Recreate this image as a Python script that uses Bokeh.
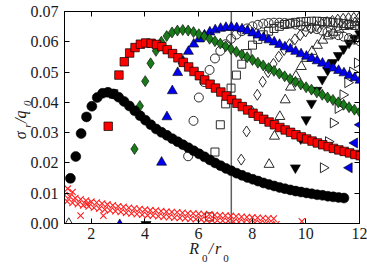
import math
from bokeh.plotting import figure
from bokeh.models import Span, LinearAxis, FixedTicker, PrintfTickFormatter, Range1d
from bokeh.embed import file_html
from bokeh.resources import INLINE

# ---- data: sigma_r / q0 against R0 / r0, one series per source spacing ----
black_x = [1.22, 1.42, 1.62, 1.82, 2.02, 2.22, 2.42, 2.62, 2.82, 3.02, 3.22, 3.42, 3.62,
           3.82, 4.02, 4.22, 4.42, 4.62, 4.82, 5.02, 5.22, 5.42, 5.62, 5.82, 6.02, 6.22,
           6.42, 6.62, 6.82, 7.02, 7.22, 7.42, 7.62, 7.82, 8.02, 8.22, 8.42, 8.62, 8.82,
           9.02, 9.22, 9.42, 9.62, 9.82, 10.02, 10.22, 10.42, 10.62, 10.82, 11.02, 11.22, 11.42]
black_y = [0.0149, 0.0221, 0.0297, 0.0352, 0.0387, 0.0416, 0.0430, 0.0433, 0.0428, 0.0417,
           0.0403, 0.0388, 0.0372, 0.0356, 0.0341, 0.0326, 0.0312, 0.0301, 0.0291, 0.0280,
           0.0270, 0.0260, 0.0250, 0.0240, 0.0230, 0.0220, 0.0210, 0.0200, 0.0191, 0.0182,
           0.0174, 0.0166, 0.0159, 0.0152, 0.0146, 0.0140, 0.0134, 0.0129, 0.0124, 0.0119,
           0.0115, 0.0111, 0.0107, 0.0104, 0.0101, 0.0098, 0.0095, 0.0093, 0.0090, 0.0088,
           0.0086, 0.0084]

red_x = [2.63, 2.83, 3.03, 3.23, 3.43, 3.63, 3.83, 4.03, 4.23, 4.43, 4.63, 4.83, 5.03, 5.23,
         5.43, 5.63, 5.83, 6.03, 6.23, 6.43, 6.63, 6.83, 7.03, 7.23, 7.43, 7.63, 7.83, 8.03,
         8.23, 8.43, 8.63, 8.83, 9.03, 9.23, 9.43, 9.63, 9.83, 10.03, 10.23, 10.43, 10.63,
         10.83, 11.03, 11.23, 11.43, 11.63, 11.83, 12.03]
red_y = [0.0321, 0.0428, 0.0490, 0.0534, 0.0563, 0.0581, 0.0592, 0.0596, 0.0595, 0.0591,
         0.0584, 0.0574, 0.0561, 0.0547, 0.0532, 0.0517, 0.0502, 0.0488, 0.0474, 0.0460,
         0.0447, 0.0434, 0.0421, 0.0409, 0.0397, 0.0386, 0.0375, 0.0364, 0.0354, 0.0344,
         0.0335, 0.0326, 0.0317, 0.0309, 0.0301, 0.0293, 0.0286, 0.0279, 0.0272, 0.0266,
         0.0260, 0.0254, 0.0248, 0.0243, 0.0238, 0.0233, 0.0228, 0.0224]

green_x = [3.61, 3.81, 4.01, 4.21, 4.41, 4.61, 4.81, 5.01, 5.21, 5.41, 5.61, 5.81, 6.01, 6.21,
           6.41, 6.61, 6.81, 7.01, 7.21, 7.41, 7.61, 7.81, 8.01, 8.21, 8.41, 8.61, 8.81, 9.01,
           9.21, 9.41, 9.61, 9.81, 10.01, 10.21, 10.41, 10.61, 10.81, 11.01, 11.21, 11.41,
           11.61, 11.81, 12.01]
green_y = [0.0246, 0.0388, 0.0470, 0.0529, 0.0570, 0.0600, 0.0619, 0.0631, 0.0637, 0.0639,
           0.0637, 0.0632, 0.0625, 0.0618, 0.0610, 0.0602, 0.0594, 0.0585, 0.0576, 0.0567,
           0.0558, 0.0549, 0.0540, 0.0531, 0.0522, 0.0513, 0.0504, 0.0495, 0.0486, 0.0477,
           0.0468, 0.0459, 0.0450, 0.0442, 0.0433, 0.0425, 0.0416, 0.0408, 0.0400, 0.0392,
           0.0384, 0.0376, 0.0368]

blue_x = [3.06, 4.62, 4.82, 5.02, 5.22, 5.42, 5.62, 5.82, 6.02, 6.22, 6.42, 6.62, 6.82, 7.02,
          7.22, 7.42, 7.62, 7.82, 8.02, 8.22, 8.42, 8.62, 8.82, 9.02, 9.22, 9.42, 9.62,
          9.82, 10.02, 10.22, 10.42, 10.62, 10.82, 11.02, 11.22, 11.42, 11.62, 11.82, 12.02]
blue_y = [-0.0004, 0.0202, 0.0352, 0.0438, 0.0498, 0.0536, 0.0568, 0.0592, 0.0609, 0.0622,
          0.0632, 0.0639, 0.0644, 0.0647, 0.0648, 0.0646, 0.0642, 0.0636, 0.0629, 0.0622,
          0.0614, 0.0606, 0.0599, 0.0591, 0.0583, 0.0576, 0.0568, 0.0560, 0.0552, 0.0545,
          0.0537, 0.0529, 0.0521, 0.0513, 0.0505, 0.0497, 0.0489, 0.0481, 0.0473]

ocirc_x = [5.61, 5.81, 6.01, 6.21, 6.41, 6.61, 6.81, 7.01, 7.21, 7.41, 7.61, 7.81, 8.01, 8.21,
           8.41, 8.61, 8.81, 9.01, 9.21, 9.41, 9.61, 9.81, 10.01, 10.21, 10.41, 10.61, 10.81,
           11.01, 11.21, 11.41, 11.61, 11.81, 12.01]
ocirc_y = [0.0222, 0.0339, 0.0416, 0.0467, 0.0507, 0.0545, 0.0570, 0.0592, 0.0610, 0.0624,
           0.0635, 0.0644, 0.0651, 0.0656, 0.0660, 0.0662, 0.0663, 0.0663, 0.0662, 0.0660,
           0.0657, 0.0654, 0.0650, 0.0646, 0.0642, 0.0637, 0.0632, 0.0627, 0.0622, 0.0617,
           0.0612, 0.0607, 0.0602]

osq_x = [6.41, 6.61, 6.81, 7.01, 7.21, 7.41, 7.61, 7.81, 8.01, 8.21, 8.41, 8.61, 8.81, 9.01,
         9.21, 9.41, 9.61, 9.81, 10.01, 10.21, 10.41, 10.61, 10.81, 11.01, 11.21, 11.41,
         11.61, 11.81, 12.01]
osq_y = [0.0022, 0.0236, 0.0326, 0.0395, 0.0447, 0.0490, 0.0526, 0.0561, 0.0589, 0.0608,
         0.0623, 0.0635, 0.0644, 0.0651, 0.0657, 0.0661, 0.0664, 0.0666, 0.0667, 0.0668,
         0.0668, 0.0667, 0.0666, 0.0664, 0.0662, 0.0660, 0.0657, 0.0654, 0.0651]

odia_x = [7.59, 7.79, 7.99, 8.19, 8.39, 8.59, 8.79, 8.99, 9.19, 9.39, 9.59, 9.79, 9.99, 10.19,
          10.39, 10.59, 10.79, 10.99, 11.19, 11.39, 11.59, 11.79, 11.99]
odia_y = [0.0211, 0.0304, 0.0370, 0.0425, 0.0468, 0.0500, 0.0527, 0.0551, 0.0573, 0.0592,
          0.0608, 0.0622, 0.0634, 0.0644, 0.0652, 0.0659, 0.0665, 0.0669, 0.0673, 0.0676,
          0.0678, 0.0679, 0.0680]

otri_x = [1.16, 8.63, 8.83, 9.03, 9.23, 9.43, 9.63, 9.83, 10.03, 10.23, 10.43, 10.63, 10.83,
          11.03, 11.23, 11.43, 11.63, 11.83, 12.03]
otri_y = [0.0000, 0.0195, 0.0288, 0.0353, 0.0408, 0.0450, 0.0487, 0.0518, 0.0545, 0.0568,
          0.0588, 0.0605, 0.0619, 0.0631, 0.0641, 0.0650, 0.0657, 0.0663, 0.0667]

dtri_x = [4.04, 9.61, 9.81, 10.01, 10.21, 10.41, 10.61, 10.81, 11.01, 11.21, 11.41, 11.61,
          11.81, 12.01]
dtri_y = [-0.0003, 0.0184, 0.0280, 0.0343, 0.0397, 0.0440, 0.0476, 0.0506, 0.0532, 0.0555,
          0.0577, 0.0596, 0.0612, 0.0626]

rtri_x = [10.65, 10.84, 11.02, 11.20, 11.38, 11.56, 11.74, 11.92]
rtri_y = [0.0184, 0.0270, 0.0332, 0.0380, 0.0425, 0.0465, 0.0500, 0.0530]

ltri_x = [11.62, 11.82, 12.02]
ltri_y = [0.0184, 0.0266, 0.0326]

cross_a_x = [1.0, 1.2, 1.4, 1.6, 1.8, 2.0, 2.2, 2.4, 2.6, 2.8, 3.0, 3.2, 3.4, 3.6, 3.8, 4.0,
             4.2, 4.4, 4.6, 4.8, 5.0, 5.2, 5.4, 5.6, 5.8, 6.0, 6.2, 6.4, 6.6, 6.8, 7.0, 7.2,
             7.4, 7.6, 7.8, 8.0, 8.2, 8.4, 8.6, 8.8]
cross_a_y = [0.0094, 0.0089, 0.0084, 0.0080, 0.0076, 0.0072, 0.0069, 0.0066, 0.0063, 0.0060,
             0.0057, 0.0055, 0.0052, 0.0050, 0.0048, 0.0046, 0.0044, 0.0043, 0.0041, 0.0039,
             0.0038, 0.0037, 0.0035, 0.0034, 0.0033, 0.0032, 0.0031, 0.0030, 0.0028, 0.0027,
             0.0026, 0.0025, 0.0024, 0.0022, 0.0021, 0.0020, 0.0019, 0.0018, 0.0017, 0.0016]
cross_b_x = [1.1, 1.3, 1.5, 1.7, 1.9, 2.1, 2.3, 2.5, 2.7, 2.9, 3.1, 3.3, 3.5, 3.7, 3.9, 4.1,
             4.3, 4.5, 4.7, 4.9, 5.1, 5.3, 5.5, 5.7, 5.9, 6.1, 6.3, 6.5, 6.7, 6.9, 7.1, 7.3,
             7.5, 7.7, 7.9, 8.1, 8.3, 8.5, 8.7, 8.9]
cross_b_y = [0.0073, 0.0068, 0.0064, 0.0060, 0.0056, 0.0052, 0.0049, 0.0046, 0.0043, 0.0041,
             0.0038, 0.0035, 0.0033, 0.0031, 0.0029, 0.0027, 0.0026, 0.0024, 0.0022, 0.0021,
             0.0019, 0.0018, 0.0017, 0.0015, 0.0014, 0.0013, 0.0012, 0.0011, 0.0010, 0.0009,
             0.0008, 0.0006, 0.0005, 0.0004, 0.0003, 0.0002, 0.0001, -0.0001, -0.0002, -0.0003]
cross_c_x = [1.12, 1.30, 1.60, 1.84, 2.45, 9.85]
cross_c_y = [0.0115, 0.0104, 0.0026, 0.0064, 0.0026, 0.0007]

marker_ratio = 7.22          # vertical reference line
x_ticks = [2, 4, 6, 8, 10, 12]
y_ticks = [0.00, 0.01, 0.02, 0.03, 0.04, 0.05, 0.06, 0.07]

# axis titles, set piece by piece: main letters and their subscripts
x_title_main = {6.02: "R", 6.54: "/", 6.84: "r"}
x_title_sub = {6.33: "0", 7.12: "0"}
y_title_main = {0.0304: "σ", 0.0347: "/", 0.0373: "q"}
y_title_sub = {0.0330: "r", 0.0406: "0"}

SERIF = "Liberation Serif"
EDGE = "#2a2a2a"
INK = "#1a1a1a"

p = figure(width=367, height=268, x_range=Range1d(1, 12), y_range=Range1d(0, 0.07),
           output_backend="svg", toolbar_location=None,
           min_border_left=59, min_border_right=8, min_border_top=11, min_border_bottom=43)
p.grid.visible = False
p.outline_line_color = "black"
p.outline_line_width = 1
p.background_fill_color = "white"
p.border_fill_color = "white"

# mirrored tick marks on the top and right edges
p.add_layout(LinearAxis(), "above")
p.add_layout(LinearAxis(), "right")

for ax in p.xaxis:
    ax.ticker = FixedTicker(ticks=x_ticks)
for ax in p.yaxis:
    ax.ticker = FixedTicker(ticks=y_ticks)
    ax.formatter = PrintfTickFormatter(format="%.2f")

for ax in p.axis:
    ax.axis_line_color = "black"
    ax.axis_line_width = 1
    ax.major_tick_in = 5
    ax.major_tick_out = 0
    ax.major_tick_line_color = "black"
    ax.minor_tick_line_color = None
    ax.major_label_text_font = SERIF
    ax.major_label_text_font_size = "16px"
    ax.major_label_text_color = INK

for ax in (p.above[0], p.right[0]):
    ax.major_label_text_color = None

p.below[0].major_label_standoff = 4
p.below[0].minor_tick_out = 0
p.left[0].major_label_standoff = 6


def title_axis(side, pieces, size, italic, standoff, angle=0.0):
    """A bare axis whose only content is a few text pieces of an axis title."""
    ax = LinearAxis(ticker=FixedTicker(ticks=list(pieces)),
                    major_label_overrides=dict(pieces),
                    axis_line_color=None, major_tick_line_color=None,
                    minor_tick_line_color=None, major_tick_in=0, major_tick_out=0,
                    axis_label_standoff=0,
                    major_label_standoff=standoff,
                    major_label_orientation=angle,
                    major_label_text_font=SERIF,
                    major_label_text_font_size=size,
                    major_label_text_font_style="italic" if italic else "normal",
                    major_label_text_color=INK)
    p.add_layout(ax, side)


title_axis("below", x_title_main, "16px", True, 7)
title_axis("below", x_title_sub, "11px", False, -10)
title_axis("left", y_title_main, "16px", True, 7, math.pi / 2)
title_axis("left", y_title_sub, "11px", True, -27, math.pi / 2)

p.add_layout(Span(location=marker_ratio, dimension="height",
                  line_color="#606060", line_width=1.5, level="underlay"))

# later series first, so the earlier curves sit on top
p.scatter(ltri_x, ltri_y, marker="triangle", angle=math.pi / 2, size=10,
          fill_color="#0000ee", line_color="black", line_width=0.6)
p.scatter(rtri_x, rtri_y, marker="triangle", angle=-math.pi / 2, size=10,
          fill_color=None, line_color=EDGE, line_width=1)
p.scatter(dtri_x, dtri_y, marker="inverted_triangle", size=10,
          fill_color="black", line_color="black", line_width=0.6)
p.scatter(otri_x, otri_y, marker="triangle", size=10,
          fill_color=None, line_color=EDGE, line_width=1)
p.scatter(odia_x, odia_y, marker="diamond", size=11,
          fill_color=None, line_color=EDGE, line_width=1)
p.scatter(osq_x, osq_y, marker="square", size=8,
          fill_color=None, line_color=EDGE, line_width=1)
p.scatter(ocirc_x, ocirc_y, marker="circle", size=9,
          fill_color=None, line_color=EDGE, line_width=1)
p.scatter(blue_x, blue_y, marker="triangle", size=10,
          fill_color="#0000ee", line_color="black", line_width=0.6)
p.scatter(green_x, green_y, marker="diamond", size=11,
          fill_color="#1a7a1a", line_color="black", line_width=0.6)
p.scatter(red_x, red_y, marker="square", size=8.5,
          fill_color="#ff0000", line_color="black", line_width=0.7)
for cx, cy in ((cross_a_x, cross_a_y), (cross_b_x, cross_b_y), (cross_c_x, cross_c_y)):
    p.scatter(cx, cy, marker="x", size=9, line_color="#ff2020", line_width=1.1)
p.scatter(black_x, black_y, marker="circle", size=10,
          fill_color="black", line_color="black", line_width=0.5)

open("out.html", "w").write(file_html(p, INLINE))
